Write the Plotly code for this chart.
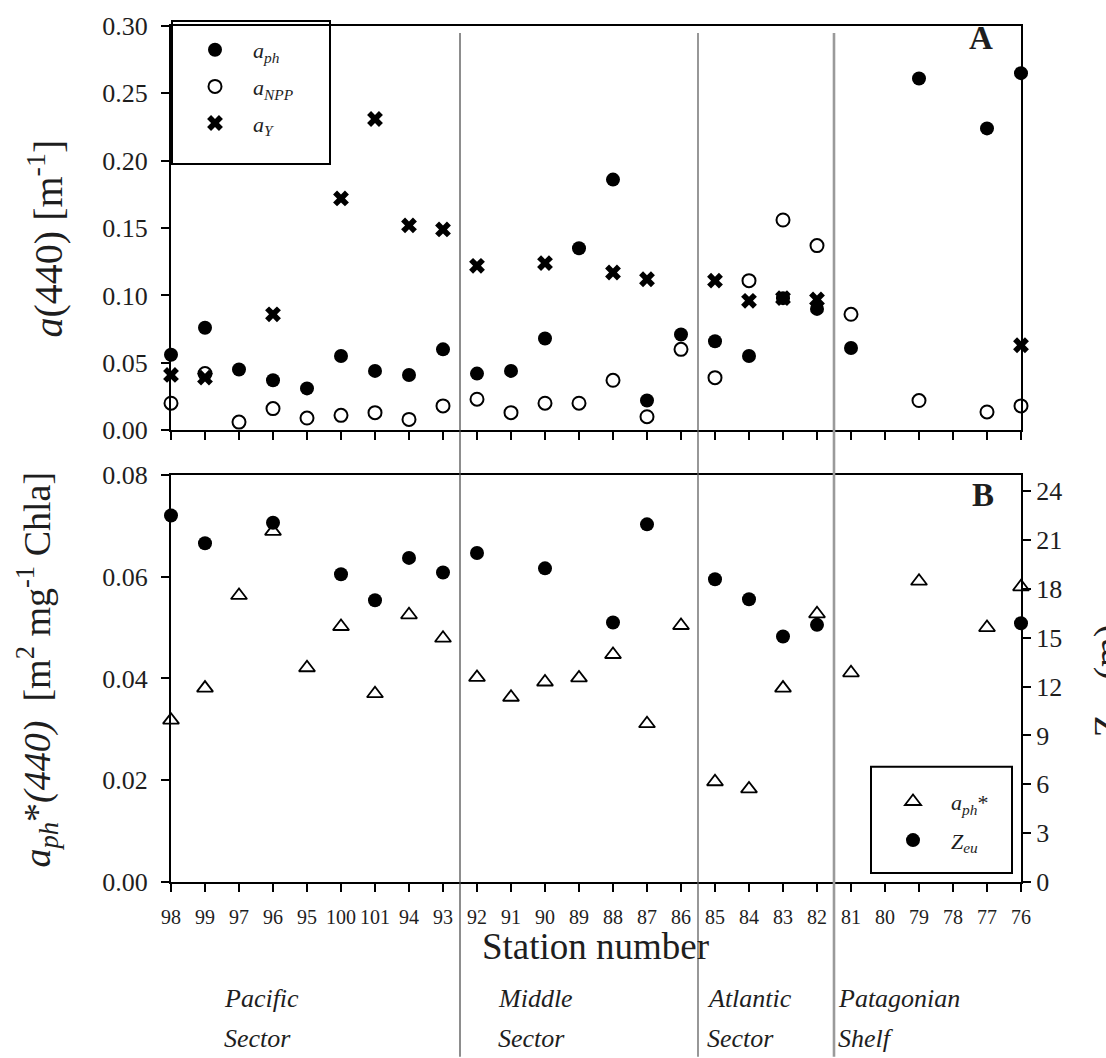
import plotly.graph_objects as go

# Station order along the transect (west to east)
stations = ["98", "99", "97", "96", "95", "100", "101", "94", "93",
            "92", "91", "90", "89", "88", "87", "86",
            "85", "84", "83", "82",
            "81", "80", "79", "78", "77", "76"]

# Panel A: absorption coefficients at 440 nm [m^-1]
a_ph = [0.056, 0.076, 0.045, 0.037, 0.031, 0.055, 0.044, 0.041, 0.060,
        0.042, 0.044, 0.068, 0.135, 0.186, 0.022, 0.071,
        0.066, 0.055, 0.098, 0.090,
        0.061, None, 0.261, None, 0.224, 0.265]
a_npp = [0.020, 0.042, 0.006, 0.016, 0.009, 0.011, 0.013, 0.008, 0.018,
         0.023, 0.013, 0.020, 0.020, 0.037, 0.010, 0.060,
         0.039, 0.111, 0.156, 0.137,
         0.086, None, 0.022, None, 0.0135, 0.018]
a_y = [0.041, 0.039, None, 0.086, None, 0.172, 0.231, 0.152, 0.149,
       0.122, None, 0.124, None, 0.117, 0.112, None,
       0.111, 0.096, 0.098, 0.097,
       None, None, None, None, None, 0.063]

# Panel B: chlorophyll-specific absorption and euphotic depth
a_ph_star = [0.0318, 0.0381, 0.0563, 0.0689, 0.0421, 0.0502, 0.0370, 0.0525, 0.0479,
             0.0402, 0.0363, 0.0393, 0.0401, 0.0447, 0.0311, 0.0504,
             0.0197, 0.0183, 0.0381, 0.0527,
             0.0411, None, 0.0591, None, 0.0500, 0.0580]
z_eu = [22.5, 20.8, None, 22.06, None, 18.9, 17.3, 19.9, 19.0,
        20.2, None, 19.26, None, 15.93, 21.96, None,
        18.59, 17.36, 15.07, 15.79,
        None, None, None, None, None, 15.89]

# Sector boundaries: (last station of a sector, line colour, line width)
boundaries = [("93", "#505050", 1.3), ("86", "#606060", 1.3), ("82", "#9a9a9a", 2.6)]
# Sector captions: (first line, second line, left edge in station-index units)
sectors = [("Pacific", "Sector", 1.5), ("Middle", "Sector", 9.55),
           ("Atlantic", "Sector", 15.7), ("Patagonian", "Shelf", 19.55)]

SERIF = "Liberation Serif"
INK = "#1e1e1e"
W, H = 1106, 1058
L, R, T, B = 171, 85, 20, 176
plot_h = H - T - B
plot_w = W - L - R


def py(pix):
    """Pixel row -> paper y."""
    return (H - B - pix) / plot_h


def px(pix):
    """Pixel column -> paper x."""
    return (pix - L) / plot_w


dom_a = [py(427), 1.0]
dom_b = [0.0, py(472)]
n = len(stations) - 1

fig = go.Figure()

fig.add_trace(go.Scatter(x=stations, y=a_ph, mode="markers", name="<i>a<sub>ph</sub></i>",
                         marker=dict(symbol="circle", size=14, color="black"),
                         xaxis="x", yaxis="y", cliponaxis=False,
                         legend="legend", legendgroup="g1"))
fig.add_trace(go.Scatter(x=stations, y=a_npp, mode="markers", name="<i>a<sub>NPP</sub></i>",
                         marker=dict(symbol="circle-open", size=13, color="black",
                                     line=dict(width=2, color="black")),
                         xaxis="x", yaxis="y", cliponaxis=False,
                         legend="legend", legendgroup="g2"))
fig.add_trace(go.Scatter(x=stations, y=a_y, mode="markers", name="<i>a<sub>Y</sub></i>",
                         marker=dict(symbol="x", size=14, color="black"),
                         xaxis="x", yaxis="y", cliponaxis=False,
                         legend="legend", legendgroup="g3"))

fig.add_trace(go.Scatter(x=stations, y=a_ph_star, mode="markers", name="<i>a<sub>ph</sub></i>*",
                         marker=dict(symbol="triangle-up-open", size=14, color="black",
                                     line=dict(width=1.8, color="black")),
                         xaxis="x2", yaxis="y2", cliponaxis=False,
                         legend="legend2", legendgroup="h1"))
fig.add_trace(go.Scatter(x=stations, y=z_eu, mode="markers", name="<i>Z<sub>eu</sub></i>",
                         marker=dict(symbol="circle", size=14, color="black"),
                         xaxis="x2", yaxis="y3", cliponaxis=False,
                         legend="legend2", legendgroup="h2"))

axis_common = dict(showline=True, linecolor="black", linewidth=2, ticks="outside",
                   ticklen=8, tickwidth=2, tickcolor="black", showgrid=False, zeroline=False,
                   tickfont=dict(family=SERIF, size=26, color=INK), ticklabelstandoff=8)

fig.update_layout(
    width=W, height=H,
    margin=dict(l=L, r=R, t=T, b=B),
    paper_bgcolor="white", plot_bgcolor="white",
    font=dict(family=SERIF, color="black"),
    xaxis=dict(axis_common, domain=[0, 1], anchor="y", type="category",
               categoryorder="array", categoryarray=stations, range=[0, n],
               showticklabels=False, mirror=True),
    yaxis=dict(axis_common, domain=dom_a, anchor="x", range=[0, 0.30], dtick=0.05,
               tickformat=".2f", mirror=True),
    xaxis2=dict(axis_common, domain=[0, 1], anchor="y2", type="category",
                categoryorder="array", categoryarray=stations, range=[0, n],
                mirror=True, tickfont=dict(family=SERIF, size=20, color=INK),
                ticklabelstandoff=8),
    yaxis2=dict(axis_common, domain=dom_b, anchor="x2", range=[0, 0.08], dtick=0.02,
                tickformat=".2f"),
    yaxis3=dict(axis_common, domain=dom_b, anchor="x2", overlaying="y2", side="right",
                range=[0, 25], dtick=3, tick0=0, ticklabelstandoff=0),
    legend=dict(x=px(177), y=py(23), xanchor="left", yanchor="top", itemwidth=66,
                bgcolor="rgba(0,0,0,0)", borderwidth=0, tracegroupgap=5,
                font=dict(family=SERIF, size=22, color=INK)),
    legend2=dict(x=px(875), y=py(780), xanchor="left", yanchor="top", itemwidth=66,
                 bgcolor="rgba(0,0,0,0)", borderwidth=0, tracegroupgap=7,
                 font=dict(family=SERIF, size=22, color=INK)),
    showlegend=True,
)

shapes = []
# legend frames
shapes.append(dict(type="rect", xref="paper", yref="paper", x0=px(172), x1=px(330),
                   y0=py(159), y1=py(15), line=dict(color="black", width=2)))
shapes.append(dict(type="rect", xref="paper", yref="paper", x0=px(871), x1=px(1012),
                   y0=py(873), y1=py(766), line=dict(color="black", width=2)))
# sector boundary lines
for st, col, wd in boundaries:
    xb = (stations.index(st) + 0.5) / n
    shapes.append(dict(type="line", xref="paper", yref="paper", x0=xb, x1=xb,
                       y0=py(H), y1=py(27), line=dict(color=col, width=wd)))
fig.update_layout(shapes=shapes)


def label(text, x, y, size, angle=0, xanchor="center"):
    return dict(text=text, x=x, y=y, xref="paper", yref="paper", showarrow=False,
                xanchor=xanchor, yanchor="middle", textangle=angle,
                font=dict(family=SERIF, size=size, color=INK))


ann = [
    label("<b>A</b>", px(981), py(32), 33),
    label("<b>B</b>", px(983), py(492), 33),
    label("<i>a</i>(440) [m<sup>-1</sup>]", px(46), py(234), 40, -90),
    label("<i>a<sub>ph</sub></i>*<i>(440)</i>  [m<sup>2</sup> mg<sup>-1</sup> Chla]",
          px(38), py(668), 38, -90),
    label("Z<sub>eu</sub> (m)", px(1110), py(680), 38, -90),
    label("Station number", px(595), py(947), 37),
]
for l1, l2, pos in sectors:
    ann.append(label(f"<i>{l1}</i>", pos / n, py(999), 26, xanchor="left"))
    ann.append(label(f"<i>{l2}</i>", pos / n, py(1040), 26, xanchor="left"))
fig.update_layout(annotations=ann)

fig.write_html("out.html")
